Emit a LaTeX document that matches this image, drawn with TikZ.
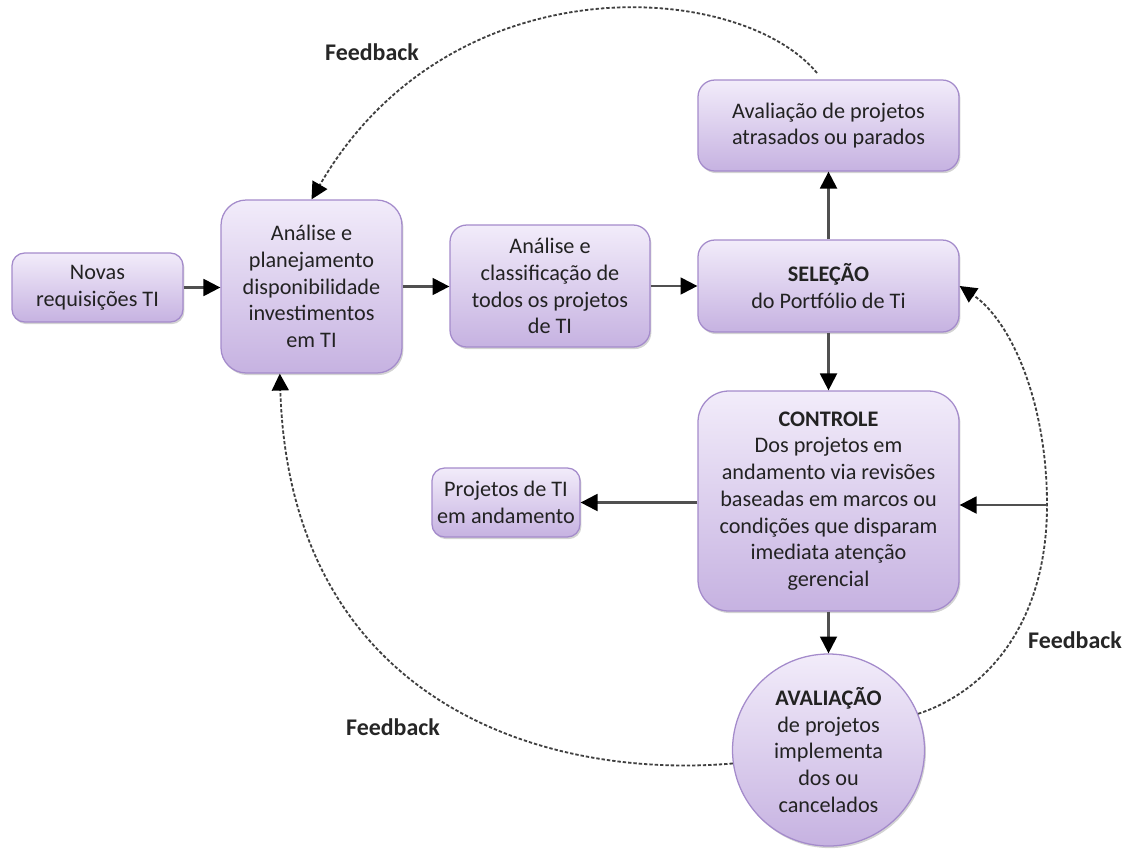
\documentclass[tikz,border=0pt]{standalone}
\usepackage{fontspec}
\setmainfont{Carlito}
\usetikzlibrary{arrows.meta,shadows}

\definecolor{boxtop}{HTML}{F2ECFA}
\definecolor{boxbot}{HTML}{C6B2E1}
\definecolor{boxline}{HTML}{A48BCB}
\definecolor{linkgray}{HTML}{505050}
\definecolor{dashgray}{HTML}{404040}
\definecolor{textdark}{HTML}{222222}

\tikzset{
  dims/.style 2 args={minimum width=#1*0.025cm, minimum height=#2*0.025cm},
  proc/.style={draw=boxline, line width=0.9pt, top color=boxtop, bottom color=boxbot,
    rounded corners=#1, drop shadow={shadow xshift=1pt, shadow yshift=-1.5pt, opacity=0.35},
    align=center, inner sep=0pt, text=textdark, font=\fontsize{15.8}{19}\selectfont},
  proc/.default=9pt,
  bubble/.style={circle, draw=boxline, line width=0.9pt, top color=boxtop, bottom color=boxbot,
    drop shadow={shadow xshift=1pt, shadow yshift=-1.5pt, opacity=0.35},
    align=center, inner sep=0pt, text=textdark, font=\fontsize{15.8}{19}\selectfont,
    minimum size=192*0.025cm},
  link/.style={draw=linkgray, line width=1.6pt, -{Triangle[length=12pt,width=12pt,color=black]}},
  fb/.style={draw=dashgray, line width=1.3pt, dash pattern=on 2.4pt off 1.4pt,
    -{Triangle[length=12pt,width=12pt,color=black]}},
  fblabel/.style={font=\fontsize{17}{20}\selectfont\bfseries, text=black!85}
}

\begin{document}
\begin{tikzpicture}[x=0.025cm, y=-0.025cm]
  \useasboundingbox (0,0) rectangle (1128,855);

  % process boxes
  \node[proc, dims={171}{69}] (novas) at (97.5,287.5) {Novas\\requisições TI};
  \node[proc=18pt, dims={181}{173}] (plan) at (311.5,286.5)
    {Análise e\\planejamento\\disponibilidade\\investimentos\\em TI};
  \node[proc=12pt, dims={200}{122}] (class) at (550,286)
    {Análise e\\classificação de\\todos os projetos\\de TI};
  \node[proc=12pt, dims={261}{92}] (sel) at (828.5,286)
    {\textbf{SELEÇÃO}\\do Portfólio de Ti};
  \node[proc=12pt, dims={261}{91}] (atr) at (828.5,125.5)
    {Avaliação de projetos\\atrasados ou parados};
  \node[proc=22pt, dims={261}{220}] (ctrl) at (828.5,501)
    {\textbf{CONTROLE}\\Dos projetos em\\andamento via revisões\\baseadas em marcos ou\\condições que disparam\\imediata atenção\\gerencial};
  \node[proc, dims={148}{69}] (andam) at (506,502.5) {Projetos de TI\\em andamento};
  \node[bubble] (aval) at (828.5,750)
    {\textbf{AVALIAÇÃO}\\de projetos\\implementa\\dos ou\\cancelados};

  % main flow
  \draw[link] (novas.east) -- (novas.east -| plan.west);
  \draw[link] (plan.east) -- (plan.east -| class.west);
  \draw[link] (class.east) -- (class.east -| sel.west);
  \draw[link] (sel) -- (atr);
  \draw[link] (sel) -- (ctrl);
  \draw[link] (ctrl.west |- andam.east) -- (andam.east);
  \draw[link] (ctrl) -- (aval);

  % feedback loops
  \coordinate (fbTop) at (817,73);
  \coordinate (fbRight) at (1047,505);
  \draw[fb] (fbTop) .. controls (740,-20) and (450,-40) .. (plan.north);
  \draw[fb] (aval.22) .. controls (990,690) and (1047,620) .. (fbRight)
    .. controls (1047,400) and (1010,320) .. (sel.east);
  \draw[link] (fbRight) -- (fbRight -| ctrl.east);
  \draw[fb] (aval.188) .. controls (540,780) and (290,700) .. (plan.250);

  % labels
  \node[fblabel] (lblTop) at (372,52) {Feedback};
  \node[fblabel] (lblRight) at (1075,640) {Feedback};
  \node[fblabel] (lblLeft) at (393,727) {Feedback};
\end{tikzpicture}
\end{document}
